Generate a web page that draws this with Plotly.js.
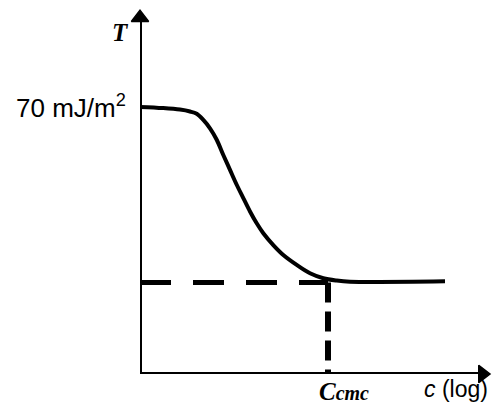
<!DOCTYPE html>
<html>
<head>
<meta charset="utf-8">
<script src="https://cdn.plot.ly/plotly-3.0.1.min.js"></script>
<style>html,body{margin:0;padding:0;background:#fff;}#chart{width:493px;height:414px;}</style>
</head>
<body>
<div id="chart"></div>
<script>
// log concentration (arbitrary units) and surface tension T (mJ/m^2)
const logC = [0, 2.3, 4.0, 5.0, 5.67, 6.33, 7.0, 7.67, 8.33, 9.0, 9.67, 10.33, 11.0, 11.67, 12.33, 13.33, 14.33, 15.67, 17.0, 18.33, 19.67, 21.0, 30.5];
const tension = [70, 69.7, 69.3, 68.8, 68.2, 66.6, 64.4, 61.4, 57.4, 53.5, 49.6, 46.1, 42.6, 39.5, 36.9, 33.8, 31.2, 28.6, 26.4, 25.1, 24.5, 24.2, 24.3];
const cmc = 18.8;
const tCmc = 24;
const xMax = 35;
const yMax = 95.4;
const plateauLabel = '70 mJ/m<sup>2</sup>';

const traces = [
  // axes
  { x: [-0.3, xMax - 1.0], y: [0, 0], mode: 'lines', line: { color: '#000', width: 4 }, cliponaxis: false, hoverinfo: 'skip' },
  { x: [0, 0], y: [-0.4, yMax - 2.5], mode: 'lines', line: { color: '#000', width: 4 }, cliponaxis: false, hoverinfo: 'skip' },
  { x: [xMax - 0.75], y: [0], mode: 'markers', marker: { symbol: 'triangle-right', size: 15, color: '#000', line: { width: 1.5, color: '#000' } }, cliponaxis: false, hoverinfo: 'skip' },
  { x: [0], y: [yMax - 2.0], mode: 'markers', marker: { symbol: 'triangle-up', size: 15, color: '#000', line: { width: 1.5, color: '#000' } }, cliponaxis: false, hoverinfo: 'skip' },
  // curve and cmc guides
  { x: logC, y: tension, mode: 'lines', line: { color: '#000', width: 4, shape: 'spline', smoothing: 1 }, cliponaxis: false, hoverinfo: 'skip' },
  { x: [0, cmc], y: [tCmc, tCmc], mode: 'lines', line: { color: '#000', width: 5, dash: '31px,22px' }, hoverinfo: 'skip' },
  { x: [cmc, cmc], y: [tCmc, 0], mode: 'lines', line: { color: '#000', width: 6, dash: '20px,9px' }, hoverinfo: 'skip' }
];

const px = v => v / xMax;
const py = v => v / yMax;

const layout = {
  width: 493, height: 414,
  margin: { l: 140, r: 3, t: 10, b: 40 },
  paper_bgcolor: '#fff', plot_bgcolor: '#fff',
  showlegend: false,
  xaxis: { range: [0, xMax], visible: false, fixedrange: true },
  yaxis: { range: [0, yMax], visible: false, fixedrange: true },
  annotations: [
    { x: px(-1.2), y: py(70), xref: 'paper', yref: 'paper', xanchor: 'right', yanchor: 'middle', showarrow: false, text: plateauLabel, font: { family: 'Liberation Sans, Arial, sans-serif', size: 26, color: '#000' } },
    { x: px(-0.9), y: py(89.5), xref: 'paper', yref: 'paper', xanchor: 'right', yanchor: 'middle', showarrow: false, text: '<b><i>T</i></b>', font: { family: 'Liberation Serif, Times New Roman, serif', size: 25, color: '#000' } },
    { x: px(17.7), y: py(-4.5), xref: 'paper', yref: 'paper', xanchor: 'left', yanchor: 'middle', showarrow: false, text: '<b><i>C<span style="font-size:20px">cmc</span></i></b>', font: { family: 'Liberation Serif, Times New Roman, serif', size: 25, color: '#000' } },
    { x: px(xMax), y: py(-3.9), xref: 'paper', yref: 'paper', xanchor: 'right', yanchor: 'middle', showarrow: false, text: '<i>c</i> (log)', font: { family: 'Liberation Sans, Arial, sans-serif', size: 23, color: '#000' } }
  ]
};

Plotly.newPlot('chart', traces, layout, { staticPlot: true, displayModeBar: false });
</script>
</body>
</html>
